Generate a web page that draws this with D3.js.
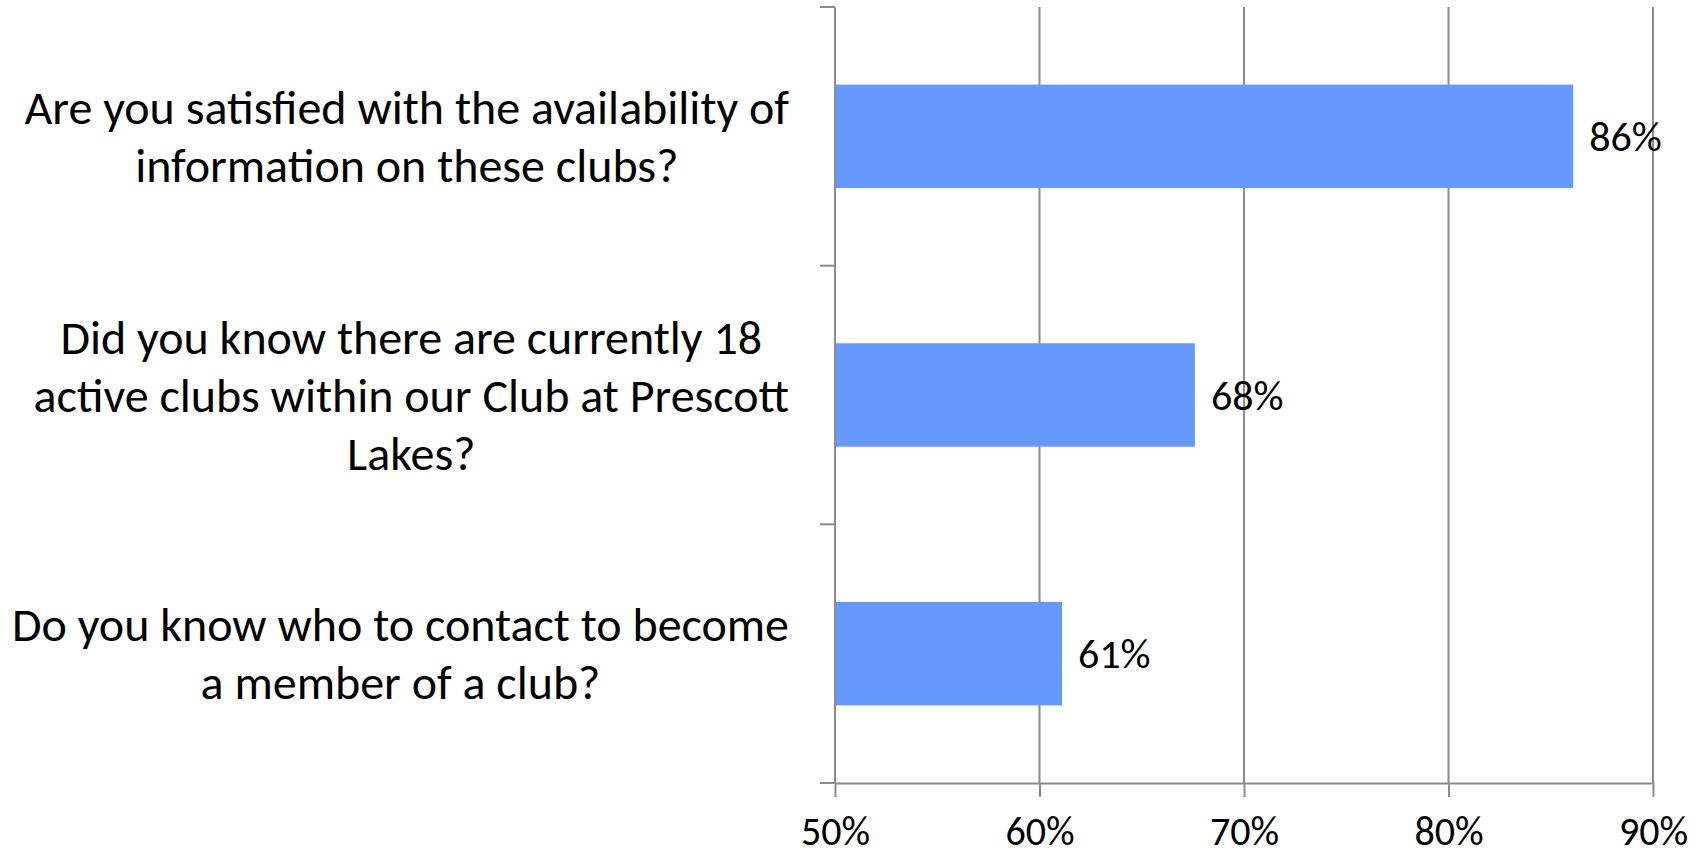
<!DOCTYPE html>
<html>
<head>
<meta charset="utf-8">
<script src="https://cdn.jsdelivr.net/npm/d3@7"></script>
<style>
  html, body { margin: 0; padding: 0; background: #ffffff; }
  svg { display: block; }
  text { font-family: Carlito, Calibri, Lato, "Open Sans", sans-serif; fill: #000; }
</style>
</head>
<body>
<svg id="chart" width="1707" height="855"></svg>
<script>
// Survey questions (each entry is one question, split into its display lines)
const questions = [
  ["Are you satisfied with the availability of", "information on these clubs?"],
  ["Did you know there are currently 18", "active clubs within our Club at Prescott", "Lakes?"],
  ["Do you know who to contact to become", "a member of a club?"]
];
// Share of members answering "yes"
const yesShare = [0.861, 0.676, 0.611];
// Value axis ticks
const xTicks = [0.5, 0.6, 0.7, 0.8, 0.9];

const plot = { left: 835, right: 1653, top: 7, bottom: 783 };
const gray = "#8c8c8c";
const barColor = "#6699ff";
const questionFont = 48;
const valueFont = 42;
const tickFont = 40;
const lineGap = 58;

const svg = d3.select("#chart");
const ids = questions.map((q, i) => i);

const x = d3.scaleLinear().domain([0.5, 0.9]).range([plot.left, plot.right]);
const y = d3.scaleBand().domain(ids).range([plot.top, plot.bottom])
  .paddingInner(0.6).paddingOuter(0.3);

// Vertical gridlines
svg.append("g").selectAll("line")
  .data(xTicks.slice(1))
  .join("line")
  .attr("x1", d => x(d)).attr("x2", d => x(d))
  .attr("y1", plot.top).attr("y2", plot.bottom)
  .attr("stroke", gray).attr("stroke-width", 2);

// Bars
svg.append("g").selectAll("rect")
  .data(ids)
  .join("rect")
  .attr("x", x(0.5))
  .attr("y", i => y(i))
  .attr("width", i => x(yesShare[i]) - x(0.5))
  .attr("height", y.bandwidth())
  .attr("fill", barColor);

// Category axis: vertical line plus ticks at band boundaries
const gap = (y.step() - y.bandwidth()) / 2;
const boundaries = ids.map(i => y(i) - gap).concat([y(ids[ids.length - 1]) + y.bandwidth() + gap]);
svg.append("line")
  .attr("x1", plot.left).attr("x2", plot.left)
  .attr("y1", plot.top).attr("y2", plot.bottom)
  .attr("stroke", gray).attr("stroke-width", 2);
svg.append("g").selectAll("line")
  .data(boundaries)
  .join("line")
  .attr("x1", plot.left - 15).attr("x2", plot.left)
  .attr("y1", d => d).attr("y2", d => d)
  .attr("stroke", gray).attr("stroke-width", 2);

// Value axis
const xAxis = svg.append("g")
  .attr("transform", `translate(0,${plot.bottom})`)
  .call(d3.axisBottom(x).tickValues(xTicks).tickFormat(d3.format(".0%"))
    .tickSize(14).tickSizeOuter(0));
xAxis.attr("font-family", null).attr("font-size", null);
xAxis.select(".domain").attr("stroke", gray).attr("stroke-width", 2);
xAxis.selectAll(".tick line").attr("stroke", gray).attr("stroke-width", 2);
xAxis.selectAll(".tick text")
  .attr("y", 62).attr("dy", null)
  .style("font-size", tickFont + "px")
  .attr("fill", "#000");

// Value labels beside the bars
const fmt = d3.format(".0%");
svg.append("g").selectAll("text")
  .data(ids)
  .join("text")
  .attr("x", i => x(yesShare[i]) + 16)
  .attr("y", i => y(i) + y.bandwidth() / 2)
  .attr("dy", "0.35em")
  .style("font-size", valueFont + "px")
  .text(i => fmt(yesShare[i]));

// Question labels: each block right-aligned to the axis, lines centred within it
const labelRight = plot.left - 46;
ids.forEach(i => {
  const lines = questions[i];
  const cy = y(i) + y.bandwidth() / 2;
  const g = svg.append("g");
  const texts = g.selectAll("text")
    .data(lines)
    .join("text")
    .attr("text-anchor", "middle")
    .attr("y", (d, k) => cy + (k - (lines.length - 1) / 2) * lineGap)
    .attr("dy", "0.35em")
    .style("font-size", questionFont + "px")
    .text(d => d);
  const maxW = d3.max(texts.nodes(), n => n.getComputedTextLength());
  texts.attr("x", labelRight - maxW / 2);
});
</script>
</body>
</html>
